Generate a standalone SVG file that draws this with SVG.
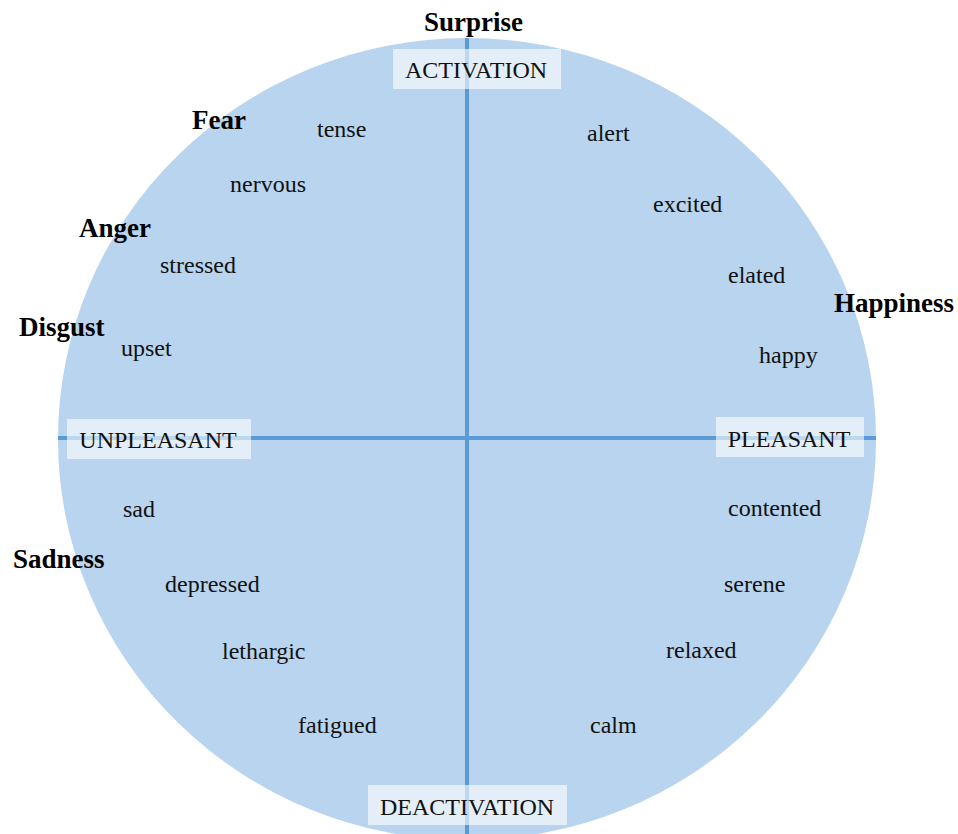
<svg xmlns="http://www.w3.org/2000/svg" width="958" height="834" viewBox="0 0 958 834">
  <style>
    .word { font-family: "Liberation Serif", "Times New Roman", serif; font-size: 24px; fill: #111; }
    .emotion { font-family: "Liberation Serif", "Times New Roman", serif; font-size: 27px; font-weight: bold; fill: #000; }
    .axis-label { font-family: "Liberation Serif", "Times New Roman", serif; font-size: 24px; fill: #111; text-anchor: middle; }
    .axis { stroke: #5b9bd5; stroke-width: 4; }
    .tag { fill: #ffffff; fill-opacity: 0.6; }
  </style>
  <rect width="958" height="834" fill="#ffffff"/>

  <!-- affect circle -->
  <ellipse id="circle" cx="467" cy="439" rx="409" ry="401" fill="#b8d4ee"/>

  <!-- axes -->
  <g id="connectors">
    <line class="axis" x1="467" y1="38" x2="467" y2="834"/>
    <line class="axis" x1="58" y1="438" x2="876" y2="438"/>
  </g>

  <!-- axis labels -->
  <g id="activation">
    <rect class="tag" x="393" y="49" width="168" height="40"/>
    <text class="axis-label" x="476" y="78">ACTIVATION</text>
  </g>
  <g id="deactivation">
    <rect class="tag" x="368" y="785" width="199" height="40"/>
    <text class="axis-label" x="467" y="815">DEACTIVATION</text>
  </g>
  <g id="unpleasant">
    <rect class="tag" x="67" y="419" width="184" height="40"/>
    <text class="axis-label" x="158" y="448">UNPLEASANT</text>
  </g>
  <g id="pleasant">
    <rect class="tag" x="716" y="417" width="148" height="40"/>
    <text class="axis-label" x="789" y="447">PLEASANT</text>
  </g>

  <!-- basic emotions -->
  <g id="surprise"><text class="emotion" x="424" y="31">Surprise</text></g>
  <g id="fear"><text class="emotion" x="192" y="129">Fear</text></g>
  <g id="anger"><text class="emotion" x="79" y="237">Anger</text></g>
  <g id="disgust"><text class="emotion" x="19" y="336">Disgust</text></g>
  <g id="sadness"><text class="emotion" x="13" y="568">Sadness</text></g>
  <g id="happiness"><text class="emotion" x="834" y="312">Happiness</text></g>

  <!-- affect words -->
  <g id="tense"><text class="word" x="317" y="137">tense</text></g>
  <g id="nervous"><text class="word" x="230" y="192">nervous</text></g>
  <g id="stressed"><text class="word" x="160" y="273">stressed</text></g>
  <g id="upset"><text class="word" x="121" y="356">upset</text></g>
  <g id="sad"><text class="word" x="123" y="517">sad</text></g>
  <g id="depressed"><text class="word" x="165" y="592">depressed</text></g>
  <g id="lethargic"><text class="word" x="222" y="659">lethargic</text></g>
  <g id="fatigued"><text class="word" x="298" y="733">fatigued</text></g>
  <g id="alert"><text class="word" x="587" y="141">alert</text></g>
  <g id="excited"><text class="word" x="653" y="212">excited</text></g>
  <g id="elated"><text class="word" x="728" y="283">elated</text></g>
  <g id="happy"><text class="word" x="759" y="363">happy</text></g>
  <g id="contented"><text class="word" x="728" y="516">contented</text></g>
  <g id="serene"><text class="word" x="724" y="592">serene</text></g>
  <g id="relaxed"><text class="word" x="666" y="658">relaxed</text></g>
  <g id="calm"><text class="word" x="590" y="733">calm</text></g>
</svg>
